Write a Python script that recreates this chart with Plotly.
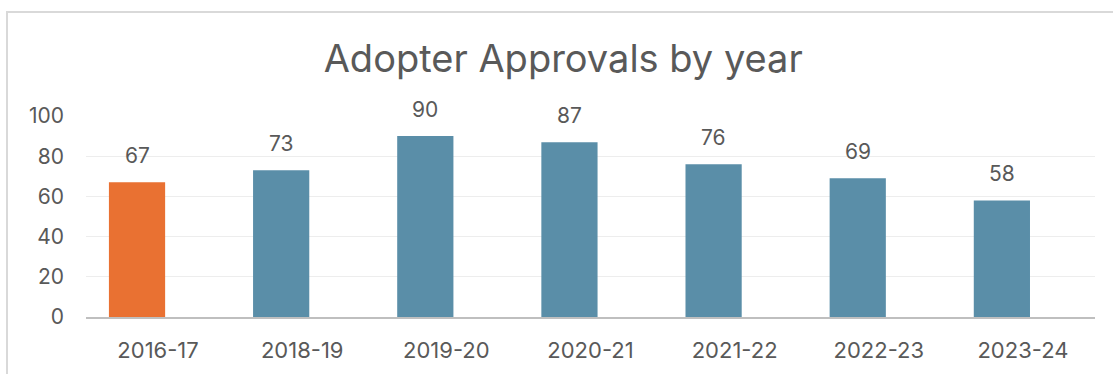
import plotly.graph_objects as go

years = ["2016-17", "2018-19", "2019-20", "2020-21", "2021-22", "2022-23", "2023-24"]
approvals = [67, 73, 90, 87, 76, 69, 58]
bar_colors = ["#E97132", "#5A8EA8", "#5A8EA8", "#5A8EA8", "#5A8EA8", "#5A8EA8", "#5A8EA8"]
y_ticks = [0, 20, 40, 60, 80, 100]

FONT = "Inter"
TEXT = "#595959"

# bars sit left of the category centre (clustered slot)
BAR_W = 0.39
BAR_SHIFT = -0.146
xpos = [i + BAR_SHIFT for i in range(len(years))]

fig = go.Figure()
fig.add_trace(go.Bar(
    x=xpos, y=approvals, width=BAR_W,
    marker=dict(color=bar_colors, line=dict(width=0)),
    hoverinfo="skip",
))

for x, v in zip(xpos, approvals):
    fig.add_annotation(x=x, y=v, text=str(v), showarrow=False,
                       yanchor="middle", yshift=27,
                       font=dict(family=FONT, size=21, color=TEXT))

fig.update_layout(
    width=1113, height=374,
    margin=dict(l=86, r=18, t=116, b=57),
    paper_bgcolor="white", plot_bgcolor="white",
    showlegend=False,
    title=dict(text="Adopter Approvals by year", x=0.506, xanchor="center",
               y=1 - 59 / 374, yanchor="middle", xref="container", yref="container",
               font=dict(family=FONT, size=38, color=TEXT)),
    xaxis=dict(range=[-0.5, len(years) - 0.5], tickvals=list(range(len(years))),
               ticktext=years, showgrid=False, zeroline=False,
               showline=True, linecolor="#BFBFBF", linewidth=2,
               ticks="", ticklabelstandoff=13,
               tickfont=dict(family=FONT, size=22, color=TEXT)),
    yaxis=dict(range=[0, 100], tickvals=y_ticks, showgrid=True,
               gridcolor="#EDEDED", gridwidth=1, zeroline=False,
               showline=False, ticks="", ticklabelstandoff=21,
               tickfont=dict(family=FONT, size=21, color=TEXT)),
)

# chart frame
fig.add_shape(type="rect", xref="paper", yref="paper",
              x0=(7 - 86) / 1009, x1=1.05, y0=-0.5, y1=(317 - 12) / 201,
              line=dict(color="#D9D9D9", width=2), layer="below")

fig.write_html("out.html")
